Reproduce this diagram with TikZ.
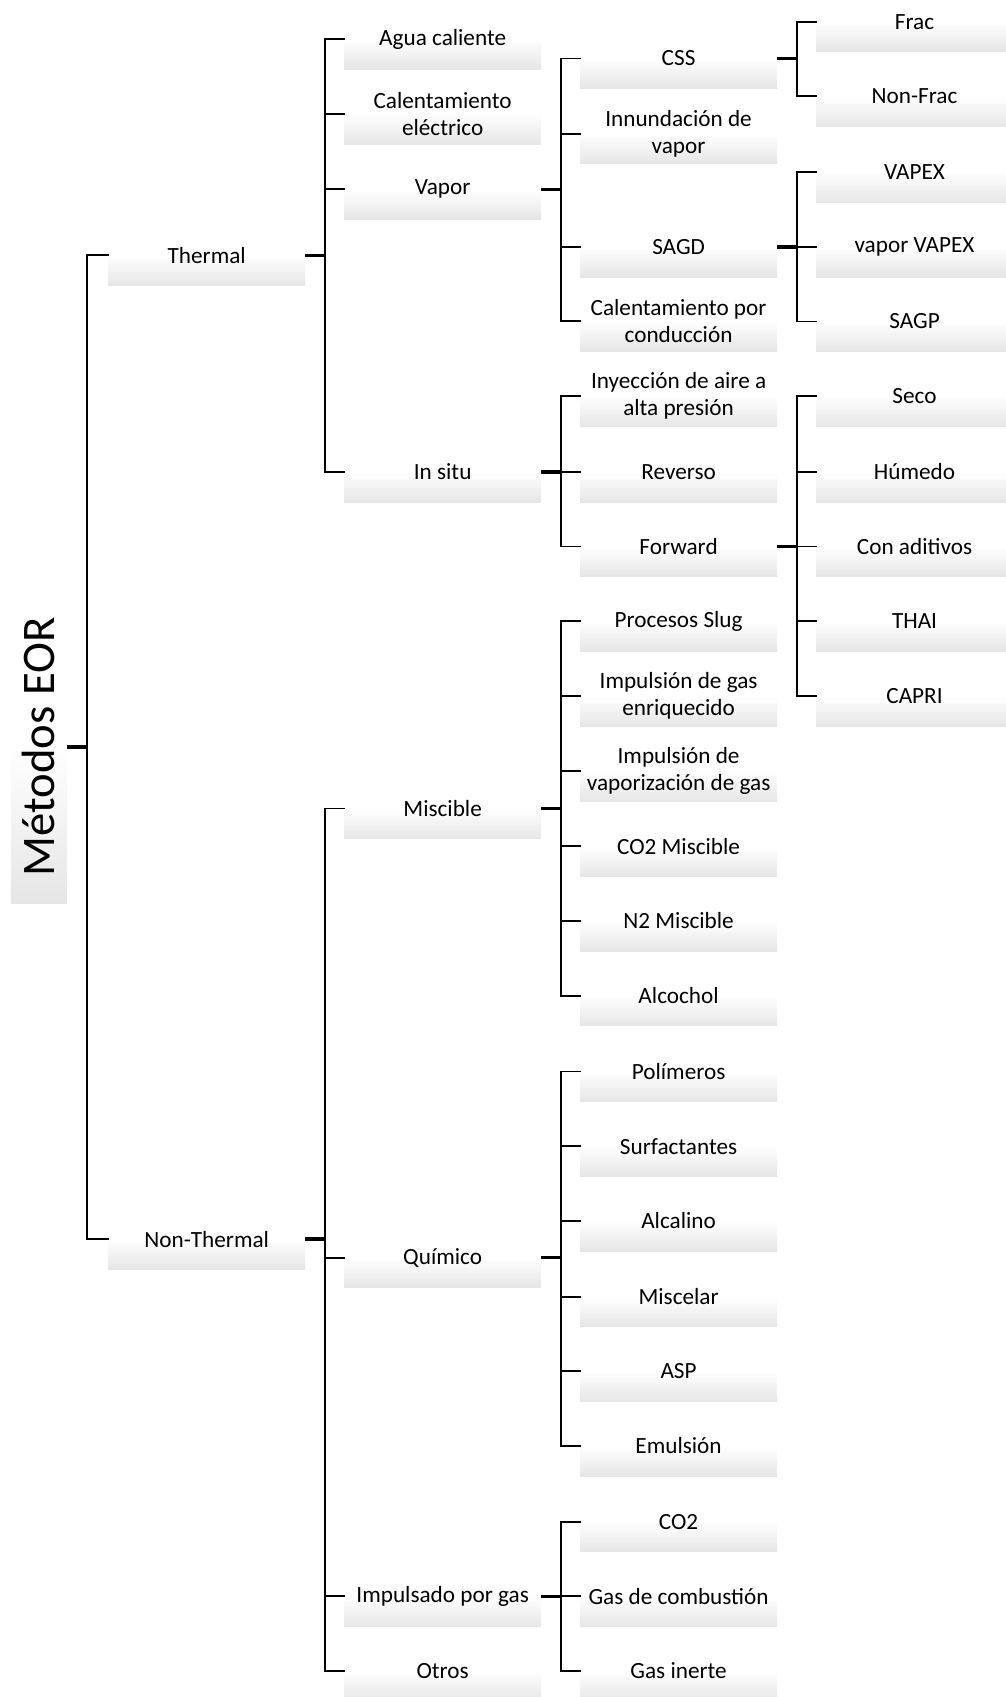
\documentclass[tikz,border=0pt]{standalone}
\usepackage{fontspec}
\setmainfont{Carlito}
\usepackage{tikz}

\tikzset{
  box/.style={minimum width=147.7pt, minimum height=45.4pt, inner sep=0pt, align=center,
    top color=white, bottom color=gray!20, middle color=white,
    font=\fontsize{17.4pt}{20.3pt}\selectfont},
  rootbox/.style={minimum width=42pt, minimum height=235pt, inner sep=0pt,
    top color=white, bottom color=gray!20, middle color=white,
    font=\fontsize{35pt}{40pt}\selectfont},
  tick/.style={line width=1.4pt, line cap=rect},
  stub/.style={line width=2.8pt},
}

\begin{document}
\begin{tikzpicture}[x=0.8114pt, y=-0.8114pt]
    \useasboundingbox (0,0) rectangle (929,1568);

    % root
    \node[rootbox] (eor) at (36,690) {\rotatebox{90}{Métodos EOR}};

    % first level
    \node[box] (thermal) at (191,236) {Thermal};
    \node[box] (nonthermal) at (191,1145) {Non-Thermal};

    % second level
    \node[box] (agua) at (409,36) {Agua caliente};
    \node[box] (electrico) at (409,105.5) {Calentamiento\\eléctrico};
    \node[box] (vapor) at (409,175) {Vapor};
    \node[box] (insitu) at (409,436) {In situ};
    \node[box] (miscible) at (409,747) {Miscible};
    \node[box] (quimico) at (409,1162) {Químico};
    \node[box] (gas) at (409,1475) {Impulsado por gas};
    \node[box] (otros) at (409,1544) {Otros};

    % third level
    \node[box] (css) at (627,54) {CSS};
    \node[box] (innund) at (627,123.5) {Innundación de\\vapor};
    \node[box] (sagd) at (627,228) {SAGD};
    \node[box] (conduc) at (627,296.5) {Calentamiento por\\conducción};
    \node[box] (aire) at (627,366) {Inyección de aire a\\alta presión};
    \node[box] (reverso) at (627,436) {Reverso};
    \node[box] (forward) at (627,505) {Forward};
    \node[box] (slug) at (627,574) {Procesos Slug};
    \node[box] (enriq) at (627,643) {Impulsión de gas\\enriquecido};
    \node[box] (vaporiz) at (627,712.5) {Impulsión de\\vaporización de gas};
    \node[box] (co2misc) at (627,782) {CO2 Miscible};
    \node[box] (n2misc) at (627,851) {N2 Miscible};
    \node[box] (alcochol) at (627,920) {Alcochol};
    \node[box] (polimeros) at (627,990) {Polímeros};
    \node[box] (surfact) at (627,1059) {Surfactantes};
    \node[box] (alcalino) at (627,1128) {Alcalino};
    \node[box] (miscelar) at (627,1198) {Miscelar};
    \node[box] (asp) at (627,1267) {ASP};
    \node[box] (emulsion) at (627,1336) {Emulsión};
    \node[box] (co2) at (627,1406) {CO2};
    \node[box] (combust) at (627,1475) {Gas de combustión};
    \node[box] (inerte) at (627,1544) {Gas inerte};

    % fourth level
    \node[box] (frac) at (845,20) {Frac};
    \node[box] (nonfrac) at (845,89) {Non-Frac};
    \node[box] (vapex) at (845,159) {VAPEX};
    \node[box] (vvapex) at (845,228) {vapor VAPEX};
    \node[box] (sagp) at (845,297) {SAGP};
    \node[box] (seco) at (845,366) {Seco};
    \node[box] (humedo) at (845,436) {Húmedo};
    \node[box] (aditivos) at (845,505) {Con aditivos};
    \node[box] (thai) at (845,574) {THAI};
    \node[box] (capri) at (845,643) {CAPRI};

    % brackets
    \draw[stub] (eor.east) -- ++(18,0) coordinate (jroot);
    \draw[tick] (jroot |- thermal.west) -- (jroot |- nonthermal.west);
    \foreach \c in {thermal,nonthermal} \draw[tick] (jroot |- \c.west) -- (\c.west);

    \draw[stub] (thermal.east) -- ++(18,0) coordinate (jthermal);
    \draw[tick] (jthermal |- agua.west) -- (jthermal |- insitu.west);
    \foreach \c in {agua,electrico,vapor,insitu} \draw[tick] (jthermal |- \c.west) -- (\c.west);

    \draw[stub] (nonthermal.east) -- ++(18,0) coordinate (jnon);
    \draw[tick] (jnon |- miscible.west) -- (jnon |- otros.west);
    \foreach \c in {miscible,quimico,gas,otros} \draw[tick] (jnon |- \c.west) -- (\c.west);

    \draw[stub] (vapor.east) -- ++(18,0) coordinate (jvapor);
    \draw[tick] (jvapor |- css.west) -- (jvapor |- conduc.west);
    \foreach \c in {css,innund,sagd,conduc} \draw[tick] (jvapor |- \c.west) -- (\c.west);

    \draw[stub] (insitu.east) -- ++(18,0) coordinate (jinsitu);
    \draw[tick] (jinsitu |- aire.west) -- (jinsitu |- forward.west);
    \foreach \c in {aire,reverso,forward} \draw[tick] (jinsitu |- \c.west) -- (\c.west);

    \draw[stub] (miscible.east) -- ++(18,0) coordinate (jmisc);
    \draw[tick] (jmisc |- slug.west) -- (jmisc |- alcochol.west);
    \foreach \c in {slug,enriq,vaporiz,co2misc,n2misc,alcochol} \draw[tick] (jmisc |- \c.west) -- (\c.west);

    \draw[stub] (quimico.east) -- ++(18,0) coordinate (jquim);
    \draw[tick] (jquim |- polimeros.west) -- (jquim |- emulsion.west);
    \foreach \c in {polimeros,surfact,alcalino,miscelar,asp,emulsion} \draw[tick] (jquim |- \c.west) -- (\c.west);

    \draw[stub] (gas.east) -- ++(18,0) coordinate (jgas);
    \draw[tick] (jgas |- co2.west) -- (jgas |- inerte.west);
    \foreach \c in {co2,combust,inerte} \draw[tick] (jgas |- \c.west) -- (\c.west);

    \draw[stub] (css.east) -- ++(18,0) coordinate (jcss);
    \draw[tick] (jcss |- frac.west) -- (jcss |- nonfrac.west);
    \foreach \c in {frac,nonfrac} \draw[tick] (jcss |- \c.west) -- (\c.west);

    \draw[stub] (sagd.east) -- ++(18,0) coordinate (jsagd);
    \draw[tick] (jsagd |- vapex.west) -- (jsagd |- sagp.west);
    \foreach \c in {vapex,vvapex,sagp} \draw[tick] (jsagd |- \c.west) -- (\c.west);

    \draw[stub] (forward.east) -- ++(18,0) coordinate (jfwd);
    \draw[tick] (jfwd |- seco.west) -- (jfwd |- capri.west);
    \foreach \c in {seco,humedo,aditivos,thai,capri} \draw[tick] (jfwd |- \c.west) -- (\c.west);
\end{tikzpicture}
\end{document}
